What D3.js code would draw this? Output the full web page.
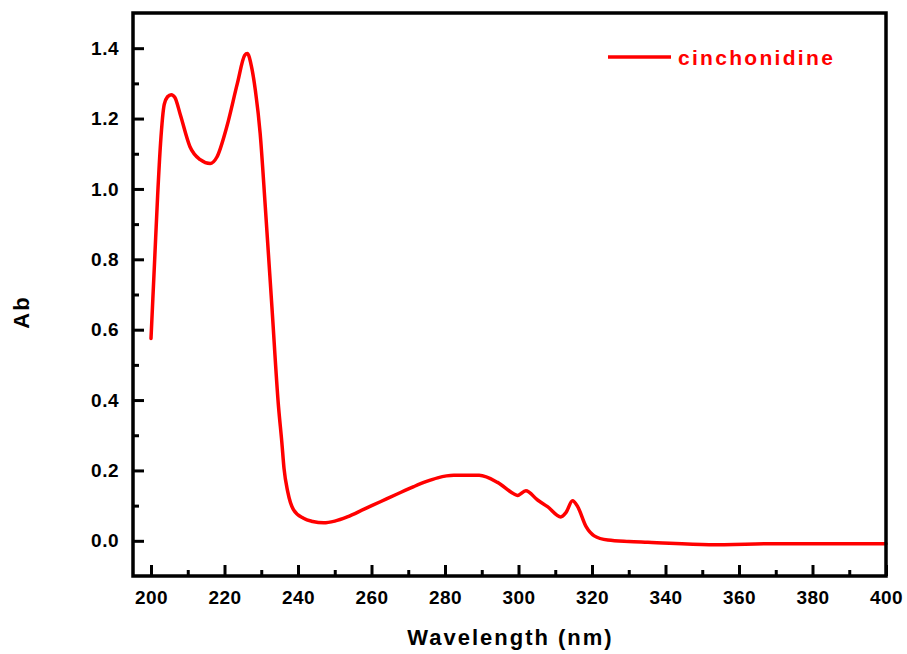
<!DOCTYPE html>
<html lang="en">
<head>
  <meta charset="UTF-8">
  <title>cinchonidine UV-Vis</title>
  <script src="https://d3js.org/d3.v7.min.js"></script>
  <style>
    body { margin: 0; background: #fff; }
    text { font-family: "Liberation Sans", Arial, sans-serif; font-weight: bold; }
  </style>
</head>
<body>
  <svg id="chart"></svg>
  <script>
    // spectrum
    const wavelength = [200, 201, 201.8, 202.6, 203.6, 204.5, 205.5, 206.5, 208, 210.6,
      213.4, 216.1, 217.9, 220.6, 223.5, 225.5, 226.2, 227.3, 228.4, 229.7,
      231.1, 232.9, 234.7, 235.6, 236.2, 237.2, 238.8, 241.5, 244, 247,
      250, 253.4, 258, 262.4, 267, 271.5, 274.8, 278, 282.4, 289.3, 294.3,
      298.8, 299.7, 302, 305.2, 307.9, 311.5, 312.9, 314.7, 316.1, 318.4,
      320.6, 324.3, 330, 335.2, 351.9, 371.5, 400];
    const absorbance = [0.575, 0.80, 0.98, 1.13, 1.24, 1.262, 1.268, 1.26, 1.21, 1.12,
      1.083, 1.072, 1.09, 1.176, 1.30, 1.38, 1.385, 1.35, 1.28, 1.158,
      0.949, 0.665, 0.381, 0.28, 0.205, 0.14, 0.088, 0.064, 0.055, 0.051,
      0.056, 0.068, 0.09, 0.111, 0.133, 0.154, 0.168, 0.179, 0.186, 0.186, 0.166,
      0.133, 0.129, 0.142, 0.116, 0.097, 0.068, 0.08, 0.114, 0.097, 0.04,
      0.014, 0.002, -0.002, -0.004, -0.011, -0.008, -0.008];

    const xTicks = [200, 220, 240, 260, 280, 300, 320, 340, 360, 380, 400];
    const xMinor = [210, 230, 250, 270, 290, 310, 330, 350, 370, 390];
    const yTicks = [0, 0.2, 0.4, 0.6, 0.8, 1.0, 1.2, 1.4];
    const yMinor = [0.1, 0.3, 0.5, 0.7, 0.9, 1.1, 1.3];
    const seriesName = "cinchonidine";

    const width = 907, height = 654;
    const frame = { left: 133, right: 886, top: 13, bottom: 576 };
    const red = "#ff0000";

    const svg = d3.select("#chart").attr("width", width).attr("height", height);

    const x = d3.scaleLinear().domain([195.1, 400]).range([frame.left, frame.right]);
    const y = d3.scaleLinear().domain([-0.1, 1.5]).range([frame.bottom, frame.top]);

    const data = wavelength.map((w, i) => ({ w: w, a: absorbance[i] }));

    const line = d3.line()
      .x(d => x(d.w))
      .y(d => y(d.a))
      .curve(d3.curveMonotoneX);

    svg.append("path")
      .datum(data)
      .attr("d", line)
      .attr("fill", "none")
      .attr("stroke", red)
      .attr("stroke-width", 3.5)
      .attr("stroke-linejoin", "round")
      .attr("stroke-linecap", "round");

    // axes, ticks pointing inward
    function styleAxis(g) {
      g.select(".domain").remove();
      g.selectAll(".tick line").attr("stroke", "#000").attr("stroke-width", 3);
      g.selectAll(".tick text").attr("fill", "#000").style("font-size", "19px")
        .style("letter-spacing", "0.5px");
    }

    svg.append("g")
      .attr("transform", `translate(0,${frame.bottom})`)
      .call(d3.axisBottom(x).tickValues(xTicks).tickSize(-11).tickPadding(15).tickFormat(d3.format("d")))
      .call(styleAxis);
    svg.append("g")
      .attr("transform", `translate(0,${frame.bottom})`)
      .call(d3.axisBottom(x).tickValues(xMinor).tickSize(-6).tickFormat(""))
      .call(styleAxis);

    svg.append("g")
      .attr("transform", `translate(${frame.left},0)`)
      .call(d3.axisLeft(y).tickValues(yTicks).tickSize(-11).tickPadding(14).tickFormat(d3.format(".1f")))
      .call(styleAxis);
    svg.append("g")
      .attr("transform", `translate(${frame.left},0)`)
      .call(d3.axisLeft(y).tickValues(yMinor).tickSize(-6).tickFormat(""))
      .call(styleAxis);

    // frame
    svg.append("rect")
      .attr("x", frame.left).attr("y", frame.top)
      .attr("width", frame.right - frame.left).attr("height", frame.bottom - frame.top)
      .attr("fill", "none").attr("stroke", "#000").attr("stroke-width", 3.5);

    // axis titles
    svg.append("text")
      .attr("x", (frame.left + frame.right) / 2 + 1)
      .attr("y", 645)
      .attr("text-anchor", "middle")
      .style("font-size", "22px")
      .style("letter-spacing", "2px")
      .text("Wavelength (nm)");

    svg.append("text")
      .attr("transform", `translate(29,312) rotate(-90)`)
      .attr("text-anchor", "middle")
      .style("font-size", "22px")
      .style("letter-spacing", "2px")
      .text("Ab");

    // legend
    svg.append("line")
      .attr("x1", 608).attr("x2", 671)
      .attr("y1", 57).attr("y2", 57)
      .attr("stroke", red).attr("stroke-width", 3.5);
    svg.append("text")
      .attr("x", 678).attr("y", 65)
      .attr("fill", red)
      .style("font-size", "21px")
      .style("letter-spacing", "2.3px")
      .text(seriesName);
  </script>
</body>
</html>
